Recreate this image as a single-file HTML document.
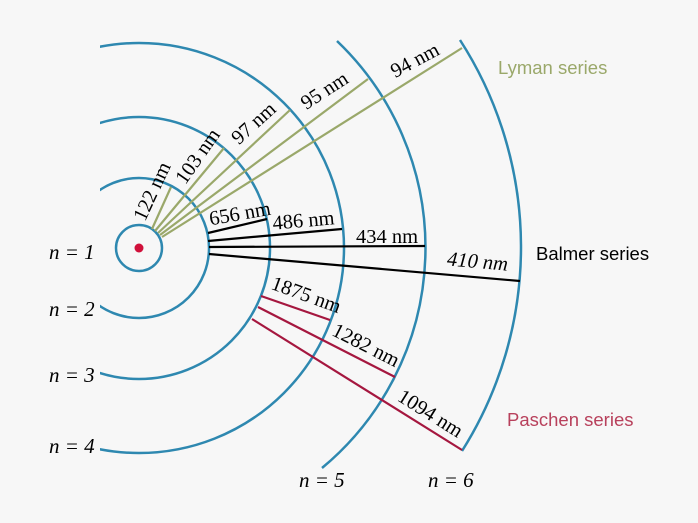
<!DOCTYPE html>
<html><head><meta charset="utf-8"><style>
html,body{margin:0;padding:0;background:#f7f7f7;}
svg{display:block}
.s{font-family:"Liberation Serif",serif;font-size:20.5px;fill:#000}
.n{font-family:"Liberation Serif",serif;font-size:21px;font-style:italic;fill:#000}
.i{font-style:italic}
.ss{font-family:"Liberation Sans",sans-serif;font-size:18.5px}
</style></head><body>
<svg width="698" height="523" viewBox="0 0 698 523" xmlns="http://www.w3.org/2000/svg">
<rect width="698" height="523" fill="#f7f7f7"/>
<defs><clipPath id="c"><rect x="100" y="0" width="600" height="523"/></clipPath></defs>
<g fill="none" stroke="#2e88b0" stroke-width="2.5">
<circle cx="139" cy="248" r="23"/>
<g clip-path="url(#c)">
<circle cx="139" cy="248" r="70"/>
<circle cx="139" cy="248" r="131"/>
<circle cx="139" cy="248" r="205"/>
</g>
<path d="M337 41 A286 286 0 0 1 322 468"/>
<path d="M460 40 A382 382 0 0 1 462 451"/>
</g>
<circle cx="139" cy="248" r="4.5" fill="#d0103a"/>
<g stroke="#9aa86a" stroke-width="2.2">
<line x1="152" y1="229" x2="171" y2="187"/>
<line x1="155" y1="231" x2="224" y2="148"/>
<line x1="158" y1="233" x2="290" y2="110"/>
<line x1="160" y1="235" x2="368" y2="79"/>
<line x1="162" y1="237" x2="462" y2="48"/>
</g>
<g stroke="#000" stroke-width="2.2">
<line x1="208" y1="233" x2="267" y2="219"/>
<line x1="208" y1="241" x2="342" y2="229"/>
<line x1="209" y1="247" x2="425" y2="246"/>
<line x1="209" y1="254" x2="520" y2="281"/>
</g>
<g stroke="#a5173f" stroke-width="2.2">
<line x1="261" y1="296" x2="330" y2="320"/>
<line x1="258" y1="307" x2="395" y2="377"/>
<line x1="252" y1="319" x2="462" y2="450"/>
</g>
<g class="s" text-anchor="middle">
<text transform="translate(158,194) rotate(-65)">122 nm</text>
<text transform="translate(203,160) rotate(-55)">103 nm</text>
<text transform="translate(258,128) rotate(-42)">97 nm</text>
<text transform="translate(328,96) rotate(-33)">95 nm</text>
<text transform="translate(418,66) rotate(-28)">94 nm</text>
<text transform="translate(241,220) rotate(-10)">656 nm</text>
<text transform="translate(304,227) rotate(-5)">486 nm</text>
<text transform="translate(387,243)">434 nm</text>
<text class="i" transform="translate(477,268) rotate(5)">410 nm</text>
<text transform="translate(304,301) rotate(20)">1875 nm</text>
<text transform="translate(363,351) rotate(27)">1282 nm</text>
<text transform="translate(427,419) rotate(32)">1094 nm</text>
</g>
<g class="n">
<text x="49" y="259">n = 1</text>
<text x="49" y="316">n = 2</text>
<text x="49" y="382">n = 3</text>
<text x="49" y="453">n = 4</text>
<text x="299" y="487">n = 5</text>
<text x="428" y="487">n = 6</text>
</g>
<text class="ss" x="498" y="74" fill="#9aa86a">Lyman series</text>
<text class="ss" x="536" y="260" fill="#000">Balmer series</text>
<text class="ss" x="507" y="426" fill="#b8415c">Paschen series</text>
</svg>
</body></html>
